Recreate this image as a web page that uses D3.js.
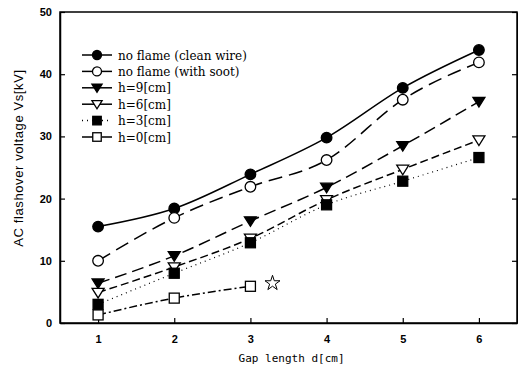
<!DOCTYPE html>
<html>
<head>
<meta charset="utf-8">
<script src="https://cdn.jsdelivr.net/npm/d3@7"></script>
<style>
  body { margin: 0; background: white; }
  svg { display: block; font-family: Arial, "Liberation Sans", sans-serif; }
</style>
</head>
<body>
<div id="chart"></div>
<script>
const gaps = [1, 2, 3, 4, 5, 6];
const xTicks = [1, 2, 3, 4, 5, 6];
const yTicks = [0, 10, 20, 30, 40, 50];

const cleanWire = [15.5, 18.4, 23.9, 29.8, 37.8, 43.9];
const withSoot = [10.0, 16.9, 21.9, 26.2, 35.9, 41.9];
const h9 = [6.4, 10.8, 16.4, 21.8, 28.5, 35.6];
const h6 = [4.9, 9.0, 13.6, 19.8, 24.7, 29.4];
const h3 = [3.0, 8.0, 12.9, 19.0, 22.8, 26.6];
const h0 = [1.3, 4.0, 5.9];
const star = [3.29, 6.4];

const seriesNames = [
  "no flame (clean wire)",
  "no flame (with soot)",
  "h=9[cm]",
  "h=6[cm]",
  "h=3[cm]",
  "h=0[cm]"
];

const series = [
  { name: seriesNames[0], values: cleanWire, dash: null, marker: "circle", filled: true },
  { name: seriesNames[1], values: withSoot, dash: "14,7", marker: "circle", filled: false },
  { name: seriesNames[2], values: h9, dash: "12,6", marker: "triangle", filled: true },
  { name: seriesNames[3], values: h6, dash: "8,4", marker: "triangle", filled: false },
  { name: seriesNames[4], values: h3, dash: "1,4", marker: "square", filled: true },
  { name: seriesNames[5], values: h0, dash: "8,3,2,3", marker: "square", filled: false }
];

const width = 518, height = 376;
const margin = { top: 12, right: 1, bottom: 53, left: 60 };
const innerW = width - margin.left - margin.right;
const innerH = height - margin.top - margin.bottom;

const svg = d3.select("#chart").append("svg")
  .attr("width", width)
  .attr("height", height);

const g = svg.append("g")
  .attr("transform", `translate(${margin.left},${margin.top})`);

const x = d3.scaleLinear().domain([0.5, 6.5]).range([0, innerW]);
const y = d3.scaleLinear().domain([0, 50]).range([innerH, 0]);

// frame
g.append("rect")
  .attr("width", innerW)
  .attr("height", innerH)
  .attr("fill", "none")
  .attr("stroke", "#000")
  .attr("stroke-width", 1.5);

// axes with inward ticks
const xAxis = g.append("g")
  .attr("transform", `translate(0,${innerH})`)
  .call(d3.axisBottom(x).tickValues(xTicks).tickFormat(d3.format("d"))
    .tickSizeInner(-5).tickSizeOuter(0).tickPadding(12));
const yAxis = g.append("g")
  .call(d3.axisLeft(y).tickValues(yTicks).tickFormat(d3.format("d"))
    .tickSizeInner(-5).tickSizeOuter(0).tickPadding(8));
g.append("g")
  .attr("transform", `translate(${innerW},0)`)
  .call(d3.axisRight(y).tickValues(yTicks).tickSizeInner(-5).tickSizeOuter(0))
  .selectAll("text").remove();

[xAxis, yAxis].forEach(a => {
  a.select(".domain").attr("stroke-width", 1.5);
  a.selectAll("text")
    .attr("font-size", 11)
    .attr("font-weight", "bold")
    .attr("fill", "#000");
});
g.selectAll(".tick line").attr("stroke-width", 1.2);

// axis titles
svg.append("text")
  .attr("x", margin.left + x(3.54))
  .attr("y", 362)
  .attr("text-anchor", "middle")
  .attr("font-size", 11)
  .attr("font-family", "'DejaVu Sans Mono', monospace")
  .text("Gap length d[cm]");

svg.append("text")
  .attr("transform", `translate(23,158) rotate(-90)`)
  .attr("text-anchor", "middle")
  .attr("font-size", 13)
  .attr("letter-spacing", 0.6)
  .text("AC flashover voltage Vs[kV]");

// markers
function drawMarker(sel, type, filled, cx, cy, k = 1) {
  const fill = filled ? "#000" : "#fff";
  if (type === "circle") {
    sel.append("circle").attr("cx", cx).attr("cy", cy).attr("r", 5.3 * k)
      .attr("fill", fill).attr("stroke", "#000").attr("stroke-width", 1.3);
  } else if (type === "square") {
    const h = 5 * k;
    sel.append("rect").attr("x", cx - h).attr("y", cy - h)
      .attr("width", 2 * h).attr("height", 2 * h)
      .attr("fill", fill).attr("stroke", "#000").attr("stroke-width", 1.3);
  } else {
    const s = 6 * k;
    sel.append("path")
      .attr("d", `M${cx - s},${cy - s * 0.7}L${cx + s},${cy - s * 0.7}L${cx},${cy + s * 0.9}Z`)
      .attr("fill", fill).attr("stroke", "#000").attr("stroke-width", 1.3);
  }
}

const line = d3.line()
  .x((d, i) => x(gaps[i]))
  .y(d => y(d))
  .curve(d3.curveMonotoneX);

// draw lines first, then markers
series.forEach(s => {
  g.append("path")
    .datum(s.values)
    .attr("d", line)
    .attr("fill", "none")
    .attr("stroke", "#000")
    .attr("stroke-width", s.dash === "1,4" ? 1.2 : 1.5)
    .attr("stroke-dasharray", s.dash);
});
series.forEach(s => {
  const mg = g.append("g");
  s.values.forEach((v, i) => drawMarker(mg, s.marker, s.filled, x(gaps[i]), y(v)));
});

// star
const starPath = d3.symbol().type(d3.symbolStar).size(70)();
g.append("path")
  .attr("d", starPath)
  .attr("transform", `translate(${x(star[0])},${y(star[1])})`)
  .attr("fill", "#fff")
  .attr("stroke", "#000")
  .attr("stroke-width", 1);

// legend
const legend = g.append("g").attr("transform", "translate(22,43)");
series.forEach((s, i) => {
  const row = legend.append("g").attr("transform", `translate(0,${i * 16.4})`);
  row.append("line")
    .attr("x1", 0).attr("x2", 30)
    .attr("stroke", "#000")
    .attr("stroke-width", 1.5)
    .attr("stroke-dasharray", s.dash === "1,4" ? "1,4" : (s.dash === "8,3,2,3" ? "12,4,1,3" : null));
  drawMarker(row, s.marker, s.filled, 15, 0, 0.85);
  row.append("text")
    .attr("x", 36)
    .attr("y", 4.5)
    .attr("font-size", 12)
    .attr("font-family", "'DejaVu Serif', serif")
    .text(s.name);
});
</script>
</body>
</html>
